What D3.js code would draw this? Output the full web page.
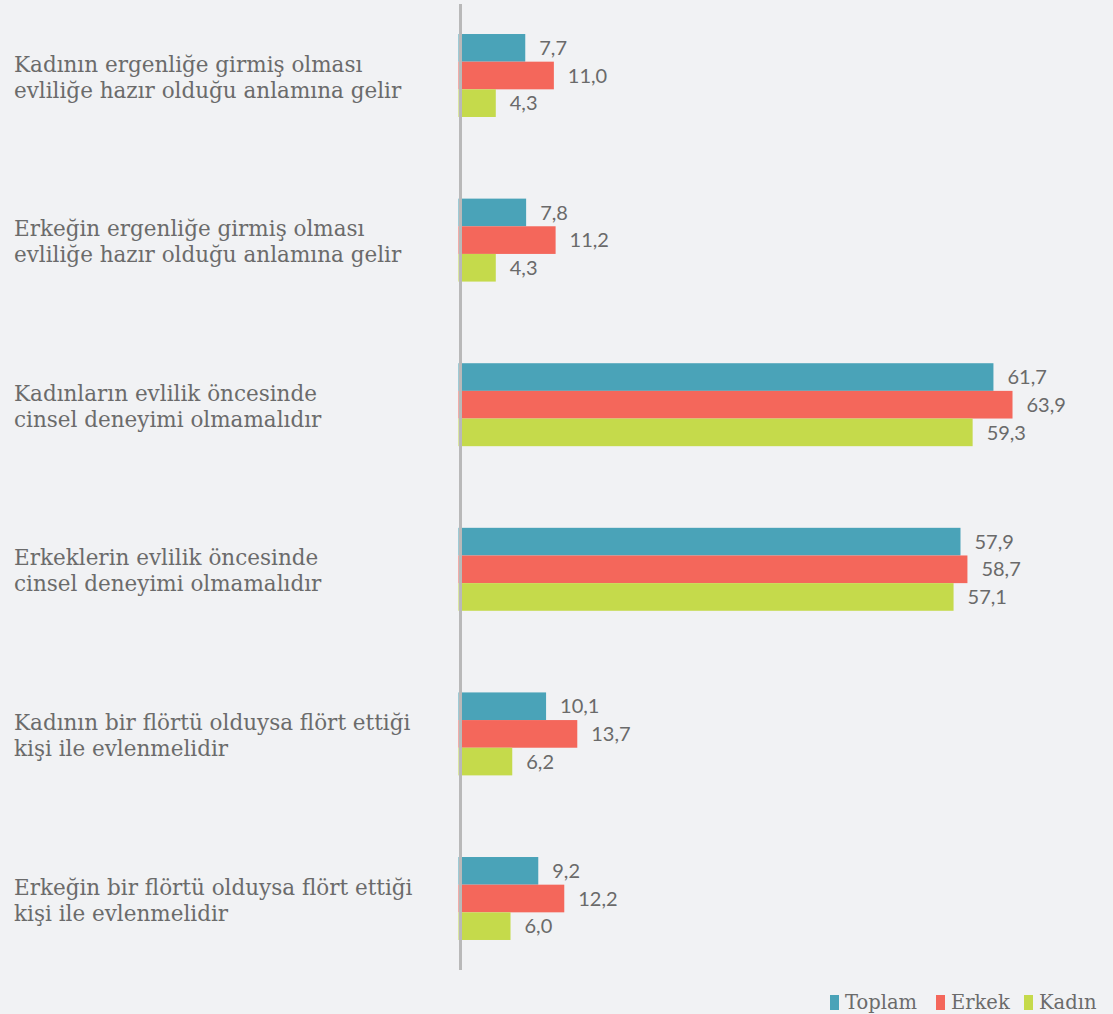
<!DOCTYPE html>
<html><head><meta charset="utf-8">
<script src="https://cdn.jsdelivr.net/npm/d3@7"></script>
<style>
html,body{margin:0;padding:0;background:#f1f2f4;}
svg{display:block;}
</style></head>
<body>
<script>
const categories = [
  ["Kadının ergenliğe girmiş olması", "evliliğe hazır olduğu anlamına gelir"],
  ["Erkeğin ergenliğe girmiş olması", "evliliğe hazır olduğu anlamına gelir"],
  ["Kadınların evlilik öncesinde", "cinsel deneyimi olmamalıdır"],
  ["Erkeklerin evlilik öncesinde", "cinsel deneyimi olmamalıdır"],
  ["Kadının bir flörtü olduysa flört ettiği", "kişi ile evlenmelidir"],
  ["Erkeğin bir flörtü olduysa flört ettiği", "kişi ile evlenmelidir"]
];
const seriesNames = ["Toplam", "Erkek", "Kadın"];
const toplam = [7.7, 7.8, 61.7, 57.9, 10.1, 9.2];
const erkek  = [11.0, 11.2, 63.9, 58.7, 13.7, 12.2];
const kadin  = [4.3, 4.3, 59.3, 57.1, 6.2, 6.0];
const colors = ["#4aa3b8", "#f4675b", "#c5da4b"];

const W = 1113, H = 1014;
const svg = d3.select("body").append("svg").attr("width", W).attr("height", H);
svg.append("rect").attr("width", W).attr("height", H).attr("fill", "#f1f2f4");

const values = [toplam, erkek, kadin];
const idx = d3.range(categories.length);

const y0 = d3.scaleBand().domain(idx).range([-6.8, 980.8]).paddingInner(0.496).paddingOuter(0.248);
const y1 = d3.scaleBand().domain(seriesNames).range([0, y0.bandwidth()]);
const x = d3.scaleLinear().domain([0, 100]).range([458.5, 1325.5]);

const fmt = v => d3.format(".1f")(v).replace(".", ",");

const g = svg.append("g");
idx.forEach(i => {
  const grp = g.append("g").attr("transform", `translate(0,${y0(i)})`);
  seriesNames.forEach((s, j) => {
    const v = values[j][i];
    grp.append("rect")
      .attr("x", x(0)).attr("y", y1(s))
      .attr("width", x(v) - x(0)).attr("height", y1.bandwidth())
      .attr("fill", colors[j]);
    grp.append("text")
      .attr("x", x(v) + 14).attr("y", y1(s) + y1.bandwidth() / 2)
      .attr("dy", "0.36em")
      .attr("font-family", "Lato, 'Open Sans', sans-serif")
      .attr("font-size", 20).attr("fill", "#6a6a6a")
      .text(fmt(v));
  });
  const cy = y0(i) + y0.bandwidth() / 2;
  const t = svg.append("text")
    .attr("font-family", "'DejaVu Serif', serif")
    .attr("font-size", 21.5).attr("fill", "#6b6b6b");
  categories[i].forEach((line, k) => {
    t.append("tspan").attr("x", 14).attr("y", cy - 4 + k * 26).text(line);
  });
});

// axis line
svg.append("line").attr("x1", 460.5).attr("x2", 460.5).attr("y1", 4).attr("y2", 970)
  .attr("stroke", "#b9b9b9").attr("stroke-width", 3);

// legend
const legendX = [830, 936, 1024];
seriesNames.forEach((s, j) => {
  svg.append("rect").attr("x", legendX[j]).attr("y", 995).attr("width", 9).attr("height", 15).attr("fill", colors[j]);
  svg.append("text").attr("x", legendX[j] + 15).attr("y", 1009)
    .attr("font-family", "'DejaVu Serif', serif").attr("font-size", 19.5).attr("fill", "#6b6b6b")
    .text(s);
});
</script>
</body></html>
